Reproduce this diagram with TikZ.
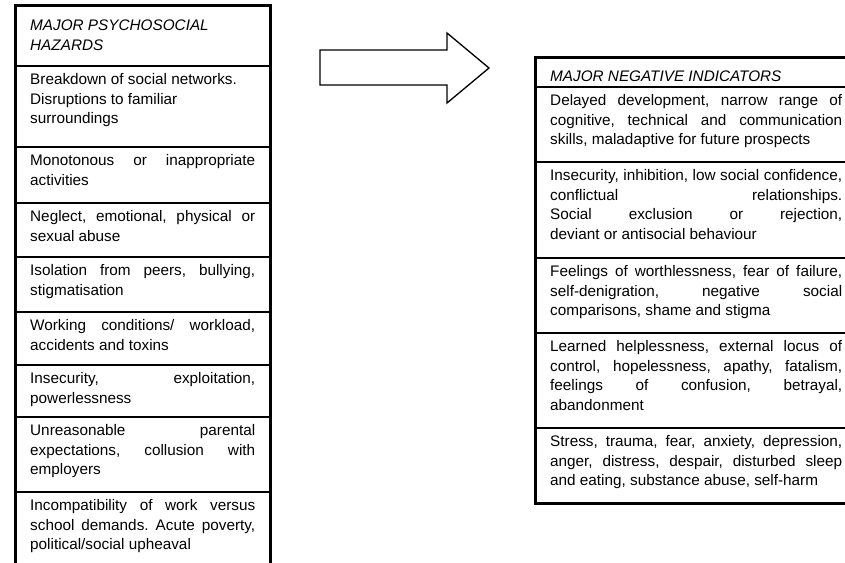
\documentclass[tikz,border=0pt]{standalone}
\usepackage{fontspec}
\setmainfont{Liberation Sans}
\frenchspacing
% justified lines of the two tables
\newcommand{\jl}[1]{\makebox[225pt][s]{#1}}
\newcommand{\jr}[1]{\makebox[292pt][s]{#1}}
\begin{document}
\begin{tikzpicture}[x=1pt, y=-1pt,
  cell/.style={anchor=north west, inner sep=0pt, align=left,
    font=\fontsize{15.3}{19.5}\selectfont},
  head/.style={cell, font=\fontsize{15.3}{19.5}\selectfont\itshape},
  frame/.style={line width=3pt},
  rowline/.style={line width=2.6pt}]
  \useasboundingbox (0,0) rectangle (845,562);
  \clip (0,0) rectangle (845,562);

  % Hazards table
  \draw[frame] (15,5) rectangle (270,600);
  \draw[rowline] (15,66) -- (270,66) (15,147) -- (270,147)
    (15,203) -- (270,203) (15,257) -- (270,257) (15,312) -- (270,312)
    (15,365) -- (270,365) (15,417) -- (270,417) (15,492) -- (270,492);

  \node[head] (hz0) at (30,17) {\strut MAJOR PSYCHOSOCIAL\\HAZARDS};
  \node[cell] (hz1) at (30,71) {\strut Breakdown of social networks.\\Disruptions to familiar\\surroundings};
  \node[cell] (hz2) at (30,152) {\strut\jl{Monotonous or inappropriate}\\activities};
  \node[cell] (hz3) at (30,208) {\strut\jl{Neglect, emotional, physical or}\\sexual abuse};
  \node[cell] (hz4) at (30,262) {\strut\jl{Isolation from peers, bullying,}\\stigmatisation};
  \node[cell] (hz5) at (30,317) {\strut\jl{Working conditions/ workload,}\\accidents and toxins};
  \node[cell] (hz6) at (30,370) {\strut\jl{Insecurity, exploitation,}\\powerlessness};
  \node[cell] (hz7) at (30,422) {\strut\jl{Unreasonable parental}\\\jl{expectations, collusion with}\\employers};
  \node[cell] (hz8) at (30,497) {\strut\jl{Incompatibility of work versus}\\\jl{school demands. Acute poverty,}\\political/social upheaval};

  % Block arrow
  \draw[line width=1.3pt, fill=white] (320,50) -- (447,50) -- (447,33)
    -- (489,68) -- (447,103) -- (447,85) -- (320,85) -- cycle;

  % Indicators table
  \draw[frame] (535,57) rectangle (860,503);
  \draw[rowline] (535,87) -- (860,87) (535,162) -- (860,162)
    (535,258) -- (860,258) (535,333) -- (860,333) (535,428) -- (860,428);

  \node[head] (ind0) at (550,68) {\strut MAJOR NEGATIVE INDICATORS};
  \node[cell] (ind1) at (550,92) {\strut\jr{Delayed development, narrow range of}\\\jr{cognitive, technical and communication}\\skills, maladaptive for future prospects};
  \node[cell] (ind2) at (550,167) {\strut\jr{Insecurity, inhibition, low social confidence,}\\\jr{conflictual relationships.}\\\jr{Social exclusion or rejection,}\\deviant or antisocial behaviour};
  \node[cell] (ind3) at (550,263) {\strut\jr{Feelings of worthlessness, fear of failure,}\\\jr{self-denigration, negative social}\\comparisons, shame and stigma};
  \node[cell] (ind4) at (550,338) {\strut\jr{Learned helplessness, external locus of}\\\jr{control, hopelessness, apathy, fatalism,}\\\jr{feelings of confusion, betrayal,}\\abandonment};
  \node[cell] (ind5) at (550,433) {\strut\jr{Stress, trauma, fear, anxiety, depression,}\\\jr{anger, distress, despair, disturbed sleep}\\and eating, substance abuse, self-harm};
\end{tikzpicture}
\end{document}
